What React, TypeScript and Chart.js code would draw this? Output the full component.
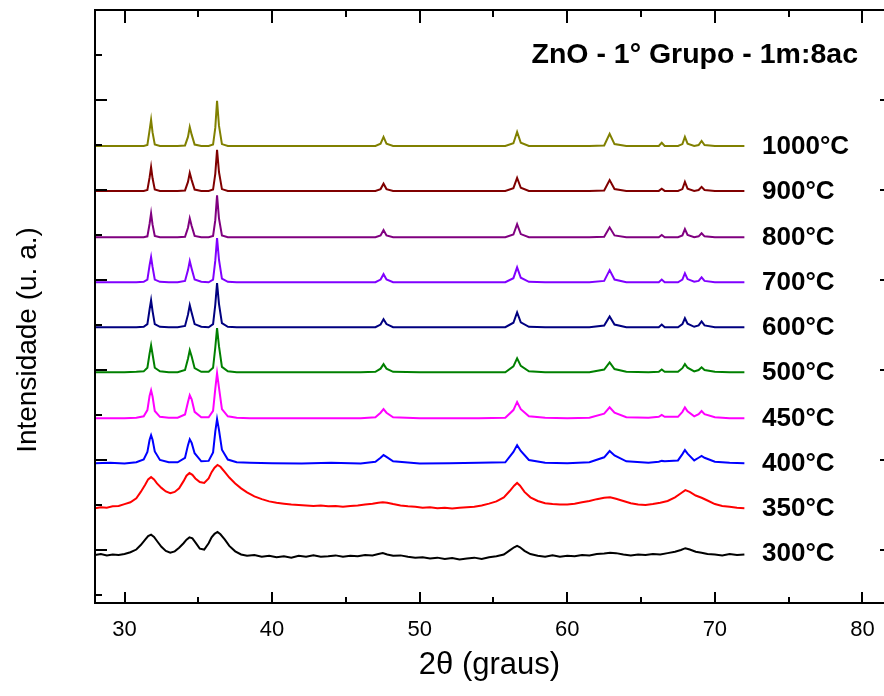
import React, { useEffect, useRef } from "react";
import { Chart, registerables } from "chart.js";

Chart.register(...registerables);

// 2θ sampling positions (degrees) for the crystalline patterns (400–1000 °C)
const twoTheta = [
  28, 29, 30, 30.8, 31.3, 31.55, 31.7, 31.8, 31.9, 32.05,
  32.4, 33.0, 33.6, 34.1, 34.3, 34.42, 34.55, 34.75, 35.2, 35.7,
  36.0, 36.15, 36.27, 36.4, 36.6, 37.0, 37.6, 38.5, 40, 42,
  44, 46, 47.0, 47.35, 47.55, 47.75, 48.2, 50, 52, 54,
  55.8, 56.35, 56.6, 56.85, 57.4, 58.5, 60, 61.5, 62.5, 62.87,
  63.2, 64, 65.5, 66.2, 66.4, 66.6, 67.5, 67.8, 67.97, 68.15,
  68.6, 68.9, 69.1, 69.3, 70, 71, 72,
];

// denser 2θ sampling for the noisy, poorly crystallised patterns (300, 350 °C)
const twoThetaFine = [
  28.0, 28.4, 28.8, 29.2, 29.6, 30.0, 30.4, 30.8, 31.1, 31.4,
  31.6, 31.8, 32.0, 32.2, 32.5, 32.8, 33.1, 33.4, 33.7, 34.0,
  34.2, 34.4, 34.6, 34.8, 35.1, 35.4, 35.7, 35.9, 36.1, 36.3,
  36.5, 36.8, 37.1, 37.5, 37.9, 38.3, 38.8, 39.3, 39.8, 40.3,
  40.8, 41.3, 41.8, 42.3, 42.8, 43.3, 43.8, 44.3, 44.8, 45.3,
  45.8, 46.3, 46.8, 47.2, 47.5, 47.8, 48.2, 48.7, 49.2, 49.7,
  50.2, 50.7, 51.2, 51.7, 52.2, 52.7, 53.2, 53.7, 54.2, 54.7,
  55.2, 55.7, 56.1, 56.4, 56.6, 56.8, 57.1, 57.5, 58.0, 58.5,
  59.0, 59.5, 60.0, 60.5, 61.0, 61.5, 62.0, 62.5, 62.9, 63.3,
  63.8, 64.3, 64.8, 65.3, 65.8, 66.3, 66.8, 67.3, 67.7, 68.0,
  68.3, 68.7, 69.1, 69.5, 70.0, 70.5, 71.0, 71.5, 72.0,
];

// Relative intensities (a.u.) per sample, before vertical stacking
const I300 = [
  -0.04, -0.02, -0.05, -0.03, -0.04, -0.02, 0.02, 0.08, 0.18, 0.3,
  0.38, 0.41, 0.36, 0.27, 0.14, 0.05, 0.01, 0.04, 0.12, 0.22,
  0.3, 0.35, 0.33, 0.24, 0.1, 0.08, 0.22, 0.35, 0.43, 0.47,
  0.42, 0.3, 0.16, 0.04, -0.03, -0.06, -0.04, -0.08, -0.06, -0.09,
  -0.07, -0.1, -0.06, -0.08, -0.05, -0.08, -0.07, -0.05, -0.08, -0.06,
  -0.07, -0.04, -0.05, -0.02, 0.0, -0.03, -0.06, -0.05, -0.08, -0.1,
  -0.09, -0.12, -0.1, -0.13, -0.11, -0.14, -0.12, -0.1, -0.13, -0.09,
  -0.07, -0.03, 0.06, 0.13, 0.16, 0.13, 0.05, -0.02, -0.06, -0.08,
  -0.05, -0.08, -0.06, -0.07, -0.04, -0.05, -0.02, -0.01, 0.01, 0.0,
  -0.03, -0.05, -0.03, -0.04, -0.02, -0.03, 0.0, 0.03, 0.07, 0.11,
  0.08, 0.03, 0.01, -0.02, -0.03, -0.05, -0.02, -0.04, -0.03,
];
const I350 = [
  0.0, 0.02, 0.01, 0.04, 0.05, 0.09, 0.13, 0.22, 0.36, 0.52,
  0.64, 0.69, 0.64, 0.55, 0.45, 0.37, 0.33, 0.36, 0.44, 0.6,
  0.72, 0.78, 0.74, 0.66, 0.58, 0.56, 0.66, 0.8, 0.9, 0.96,
  0.92, 0.8, 0.68, 0.55, 0.44, 0.35, 0.26, 0.2, 0.15, 0.12,
  0.1, 0.08, 0.07, 0.06, 0.05, 0.06, 0.04, 0.05, 0.03, 0.05,
  0.06, 0.08, 0.1, 0.12, 0.13, 0.12, 0.09, 0.06, 0.04, 0.03,
  0.01, 0.02, 0.0, 0.01, -0.01, 0.01, 0.02, 0.03, 0.06, 0.1,
  0.15, 0.24, 0.38, 0.5, 0.56, 0.5, 0.36, 0.24, 0.16, 0.11,
  0.09, 0.08, 0.08, 0.1, 0.13, 0.16, 0.2, 0.23, 0.24, 0.21,
  0.16, 0.11, 0.08, 0.07, 0.09, 0.12, 0.16, 0.24, 0.33, 0.4,
  0.36, 0.28, 0.23, 0.17, 0.09, 0.05, 0.03, 0.01, 0.0,
];
const I400 = [
  0, 0.01, -0.01, 0.02, 0.08, 0.25, 0.52, 0.62, 0.52, 0.26,
  0.07, 0.02, 0.02, 0.12, 0.4, 0.53, 0.45, 0.22, 0.04, 0.05,
  0.24, 0.7, 0.98, 0.74, 0.3, 0.08, 0.02, 0.01, 0, -0.01,
  0.01, -0.01, 0.03, 0.12, 0.18, 0.14, 0.04, -0.01, 0, 0.01,
  0.02, 0.25, 0.4, 0.27, 0.07, 0.01, 0, 0.02, 0.13, 0.27,
  0.17, 0.04, 0.01, 0.03, 0.05, 0.04, 0.06, 0.2, 0.29, 0.21,
  0.06, 0.12, 0.16, 0.12, 0.03, 0.01, 0,
];
const I450 = [
  0, 0, 0, 0.01, 0.04, 0.18, 0.5, 0.62, 0.48, 0.16,
  0.03, 0.01, 0.01, 0.08, 0.36, 0.51, 0.42, 0.14, 0.02, 0.02,
  0.16, 0.65, 1.0, 0.68, 0.2, 0.04, 0.01, 0, 0, 0,
  0, 0, 0.02, 0.12, 0.2, 0.12, 0.02, 0, 0, 0,
  0.01, 0.18, 0.36, 0.2, 0.04, 0.01, 0, 0.01, 0.1, 0.24,
  0.12, 0.02, 0.01, 0.03, 0.07, 0.03, 0.03, 0.14, 0.24, 0.15,
  0.04, 0.09, 0.16, 0.09, 0.02, 0, 0,
];
const I500 = [
  0, 0, 0, 0.01, 0.02, 0.1, 0.42, 0.6, 0.4, 0.1,
  0.02, 0, 0, 0.05, 0.3, 0.49, 0.35, 0.09, 0.01, 0.01,
  0.1, 0.55, 0.98, 0.58, 0.12, 0.02, 0, 0, 0, 0,
  0, 0, 0.01, 0.08, 0.18, 0.08, 0.01, 0, 0, 0,
  0, 0.13, 0.31, 0.14, 0.02, 0, 0, 0, 0.06, 0.22,
  0.07, 0.01, 0, 0.01, 0.06, 0.01, 0.01, 0.09, 0.18, 0.1,
  0.02, 0.05, 0.11, 0.05, 0.01, 0, 0,
];
const I600 = [
  0, 0, 0, 0, 0.01, 0.07, 0.4, 0.6, 0.36, 0.07,
  0.01, 0, 0, 0.03, 0.28, 0.49, 0.32, 0.07, 0.01, 0,
  0.07, 0.5, 0.98, 0.52, 0.09, 0.01, 0, 0, 0, 0,
  0, 0, 0, 0.06, 0.18, 0.07, 0, 0, 0, 0,
  0, 0.1, 0.33, 0.11, 0.01, 0, 0, 0, 0.04, 0.24,
  0.06, 0, 0, 0, 0.06, 0, 0, 0.07, 0.2, 0.08,
  0.01, 0.04, 0.13, 0.04, 0, 0, 0,
];
const I700 = [
  0, 0, 0, 0, 0.01, 0.06, 0.38, 0.56, 0.34, 0.06,
  0.01, 0, 0, 0.03, 0.27, 0.47, 0.3, 0.06, 0.01, 0,
  0.06, 0.48, 0.98, 0.5, 0.08, 0.01, 0, 0, 0, 0,
  0, 0, 0, 0.06, 0.18, 0.06, 0, 0, 0, 0,
  0, 0.09, 0.33, 0.1, 0.01, 0, 0, 0, 0.03, 0.27,
  0.06, 0, 0, 0, 0.06, 0, 0, 0.06, 0.2, 0.07,
  0.01, 0.03, 0.11, 0.03, 0, 0, 0,
];
const I800 = [
  0, 0, 0, 0, 0, 0.02, 0.3, 0.53, 0.28, 0.03,
  0, 0, 0, 0.01, 0.21, 0.42, 0.25, 0.03, 0, 0,
  0.03, 0.38, 0.93, 0.42, 0.04, 0, 0, 0, 0, 0,
  0, 0, 0, 0.04, 0.16, 0.04, 0, 0, 0, 0,
  0, 0.06, 0.29, 0.07, 0, 0, 0, 0, 0.01, 0.22,
  0.04, 0, 0, 0, 0.05, 0, 0, 0.04, 0.18, 0.05,
  0, 0.02, 0.09, 0.02, 0, 0, 0,
];
const I900 = [
  0, 0, 0, 0, 0, 0.02, 0.3, 0.53, 0.28, 0.03,
  0, 0, 0, 0.01, 0.2, 0.4, 0.24, 0.03, 0, 0,
  0.03, 0.38, 0.91, 0.42, 0.04, 0, 0, 0, 0, 0,
  0, 0, 0, 0.04, 0.16, 0.04, 0, 0, 0, 0,
  0, 0.06, 0.29, 0.07, 0, 0, 0, 0, 0.01, 0.24,
  0.04, 0, 0, 0, 0.05, 0, 0, 0.04, 0.2, 0.05,
  0, 0.02, 0.09, 0.02, 0, 0, 0,
];
const I1000 = [
  0, 0, 0, 0, 0, 0.02, 0.35, 0.58, 0.3, 0.03,
  0, 0, 0, 0.01, 0.2, 0.42, 0.25, 0.03, 0, 0,
  0.03, 0.4, 1.0, 0.45, 0.04, 0, 0, 0, 0, 0,
  0, 0, 0, 0.05, 0.2, 0.05, 0, 0, 0, 0,
  0, 0.06, 0.31, 0.07, 0, 0, 0, 0, 0.01, 0.27,
  0.04, 0, 0, 0, 0.07, 0, 0, 0.04, 0.2, 0.05,
  0, 0.02, 0.11, 0.02, 0, 0, 0,
];

const temperatures = ["300°C", "350°C", "400°C", "450°C", "500°C", "600°C", "700°C", "800°C", "900°C", "1000°C"];
const seriesColors = ["#000000", "#FF0000", "#0000FF", "#FF00FF", "#008000", "#000080", "#8000FF", "#800080", "#800000", "#808000"];
const stackOffsets = [0.93, 1.93, 2.93, 3.93, 4.95, 5.95, 6.95, 7.95, 8.98, 9.98];
const usesFineGrid = [true, true, false, false, false, false, false, false, false, false];

const xMajorTicks = [30, 40, 50, 60, 70, 80];
const xMinorTicks = [35, 45, 55, 65, 75];
const yTickValues = [0, 1, 2, 3, 4, 5, 6, 7, 8, 9, 10, 11, 12, 13];

const chartTitle = "ZnO - 1° Grupo - 1m:8ac";
const xTitle = "2θ (graus)";
const yTitle = "Intensidade (u. a.)";
const labelAt2Theta = 73.2;

const FONT = "'Liberation Sans', Arial, sans-serif";

const framePlugin = {
  id: "originFrame",
  afterDatasetsDraw(chart: any) {
    const { ctx, chartArea, scales } = chart;
    const { left, right, top, bottom } = chartArea;
    const xs = scales.x;
    const ys = scales.y;
    ctx.save();
    ctx.strokeStyle = "#000";
    ctx.lineWidth = 2;
    ctx.lineCap = "butt";
    ctx.beginPath();
    ctx.moveTo(left, bottom + 1);
    ctx.lineTo(left, top - 1);
    ctx.moveTo(left - 1, top);
    ctx.lineTo(right + 4, top);
    ctx.moveTo(left - 1, bottom);
    ctx.lineTo(right + 4, bottom);
    ctx.stroke();

    ctx.beginPath();
    xMajorTicks.forEach((v) => {
      const px = Math.round(xs.getPixelForValue(v));
      ctx.moveTo(px, bottom);
      ctx.lineTo(px, bottom - 11);
      ctx.moveTo(px, top);
      ctx.lineTo(px, top + 13);
    });
    xMinorTicks.forEach((v) => {
      const px = Math.round(xs.getPixelForValue(v));
      ctx.moveTo(px, bottom);
      ctx.lineTo(px, bottom - 6);
      ctx.moveTo(px, top);
      ctx.lineTo(px, top + 7);
    });
    yTickValues.forEach((v) => {
      const py = Math.round(ys.getPixelForValue(v));
      const major = v % 2 === 1;
      ctx.moveTo(left, py);
      ctx.lineTo(left + (major ? 12 : 7), py);
      if (major) {
        ctx.moveTo(right + 3, py);
        ctx.lineTo(right - 4, py);
      }
    });
    ctx.stroke();

    // series labels
    ctx.fillStyle = "#000";
    ctx.font = `bold 26px ${FONT}`;
    ctx.textAlign = "left";
    ctx.textBaseline = "middle";
    temperatures.forEach((t, i) => {
      ctx.fillText(t, xs.getPixelForValue(labelAt2Theta), ys.getPixelForValue(stackOffsets[i]) + 1);
    });

    // chart title
    ctx.font = `bold 28.5px ${FONT}`;
    ctx.textAlign = "right";
    ctx.fillText(chartTitle, 858, 55);

    // axis titles
    ctx.font = `31px ${FONT}`;
    ctx.textAlign = "center";
    ctx.fillText(xTitle, (left + right) / 2, 665);
    ctx.font = `28px ${FONT}`;
    ctx.save();
    ctx.translate(28, 340);
    ctx.rotate(-Math.PI / 2);
    ctx.fillText(yTitle, 0, 0);
    ctx.restore();
    ctx.restore();
  },
};

export default function App() {
  const ref = useRef<HTMLCanvasElement>(null);
  useEffect(() => {
    document.body.style.margin = "0";
    const series = [I300, I350, I400, I450, I500, I600, I700, I800, I900, I1000];
    const chart = new Chart(ref.current as HTMLCanvasElement, {
      type: "line",
      data: {
        datasets: series.map((s, i) => {
          const grid = usesFineGrid[i] ? twoThetaFine : twoTheta;
          return {
            label: temperatures[i],
            data: grid.map((t, j) => ({ x: t, y: s[j] + stackOffsets[i] })),
            borderColor: seriesColors[i],
            backgroundColor: seriesColors[i],
            borderWidth: 2,
            pointRadius: 0,
            tension: 0,
            fill: false,
          };
        }),
      },
      options: {
        animation: false,
        responsive: false,
        maintainAspectRatio: false,
        layout: { padding: { top: 10, right: 0, left: 0, bottom: 0 } },
        plugins: { legend: { display: false }, tooltip: { enabled: false }, title: { display: false } },
        scales: {
          x: {
            type: "linear",
            min: 28,
            max: 81.46,
            grid: { display: false, drawTicks: false },
            border: { display: false },
            ticks: {
              stepSize: 10,
              includeBounds: false,
              padding: 14,
              color: "#000",
              maxRotation: 0,
              font: { family: FONT, size: 22 },
            },
            afterFit: (s: any) => {
              s.height = 93;
              s.paddingLeft = 0;
              s.paddingRight = 0;
            },
          },
          y: {
            type: "linear",
            min: -0.178,
            max: 13.0,
            grid: { display: false, drawTicks: false },
            border: { display: false },
            ticks: { display: false },
            afterFit: (s: any) => {
              s.width = 95;
              s.paddingTop = 0;
              s.paddingBottom = 0;
            },
          },
        },
      },
      plugins: [framePlugin],
    });
    return () => chart.destroy();
  }, []);
  return <canvas ref={ref} width={884} height={696} style={{ display: "block" }} />;
}
